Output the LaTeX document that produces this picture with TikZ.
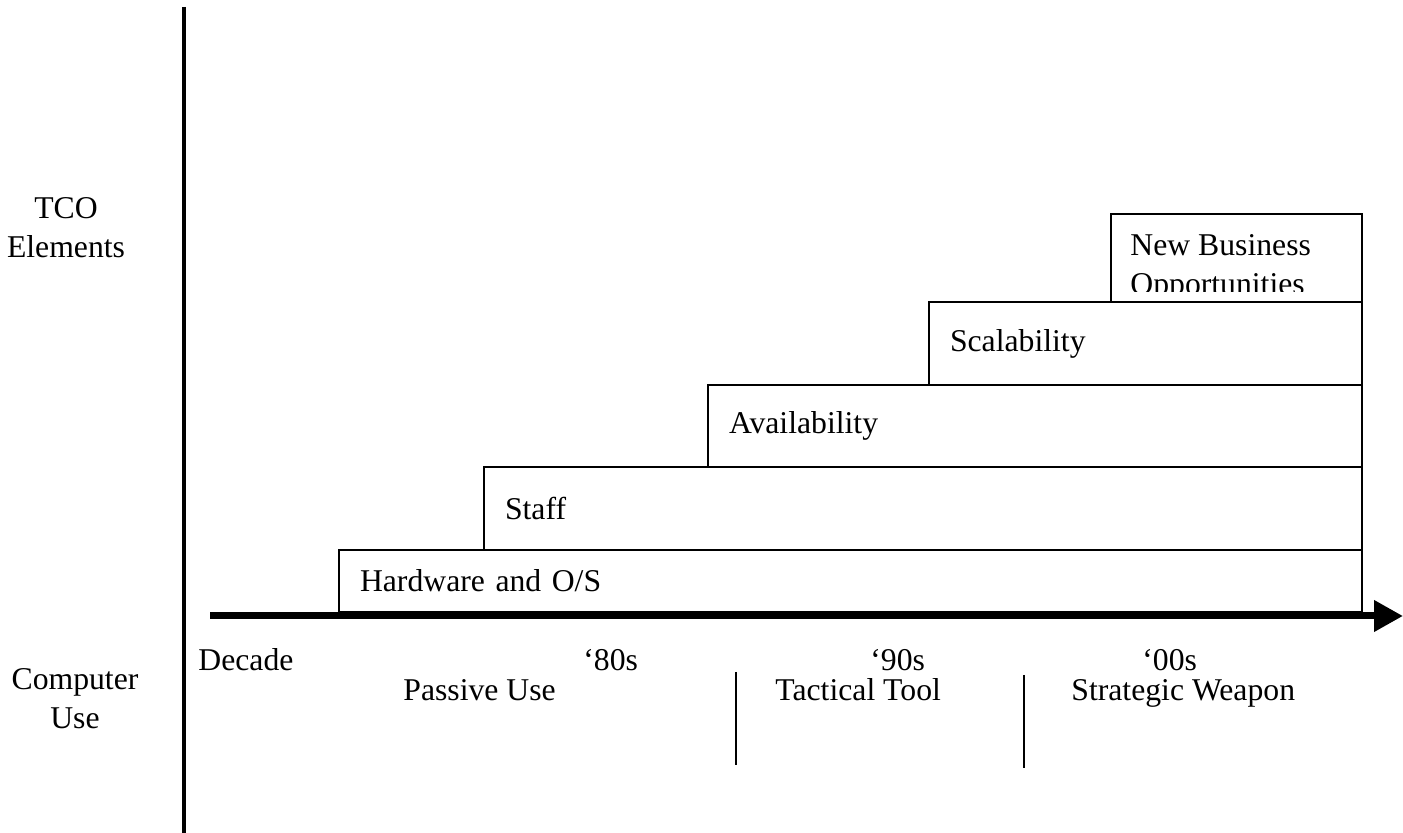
\documentclass[tikz,border=0pt]{standalone}
\usepackage{fontspec}
\setmainfont{Liberation Serif}
\usetikzlibrary{arrows.meta}

\begin{document}
\begin{tikzpicture}[x=0.5pt, y=-0.5pt,
    font=\fontsize{15.85pt}{19.5pt}\selectfont,
    box/.style={rectangle, draw, line width=1pt, anchor=south west, inner xsep=10.5pt, align=left}
    ]
    \useasboundingbox (0,0) rectangle (1403,833);

    % axes
    \draw[line width=2pt] (184,7) -- (184,833);
    \draw[line width=3.5pt, -{Triangle[length=14.5pt, width=15pt]}] (210,616) -- (1403,616);

    % stacked elements, bottom to top
    \node[box, minimum width=511.5pt, minimum height=31pt, text width=490.5pt] (hw) at (338,613) {Hardware and O/S};
    \node[box, minimum width=439pt, minimum height=41.5pt, text width=418pt] (staff) at (483,551) {Staff};
    \node[box, minimum width=327pt, minimum height=41pt, text width=306pt] (avail) at (707,468) {Availability};
    \node[box, minimum width=216.5pt, minimum height=41.5pt, text width=195.5pt] (scal) at (928,386) {Scalability};
    \node[box, minimum width=125.5pt, minimum height=44pt] (nbo) at (1110,303) {};
    \begin{scope}
      \clip (nbo.north west) rectangle (1361,292);
      \node[anchor=north west, align=left, inner sep=0pt] (nbotext) at (1130,234) {New Business\\Opportunities};
    \end{scope}

    % side labels
    \node[anchor=north, align=center, inner sep=0pt] (tco) at (66,197) {TCO\\Elements};
    \node[anchor=north, align=center, inner sep=0pt] (use) at (75,668) {Computer\\Use};

    % decades
    \node[anchor=base west, inner sep=0pt] (decade) at (198,670) {Decade};
    \node[anchor=base west, inner sep=0pt] (d80) at (583,670) {‘80s};
    \node[anchor=base west, inner sep=0pt] (d90) at (870,670) {‘90s};
    \node[anchor=base west, inner sep=0pt] (d00) at (1142,670) {‘00s};

    % kinds of use
    \node[anchor=base west, inner sep=0pt] (passive) at (403,700) {Passive Use};
    \node[anchor=base west, inner sep=0pt] (tactical) at (775,700) {Tactical Tool};
    \node[anchor=base west, inner sep=0pt] (strategic) at (1071,700) {Strategic Weapon};
    \coordinate (s1top) at (736,672);
    \coordinate (s1bot) at (736,765);
    \coordinate (s2top) at (1024,675);
    \coordinate (s2bot) at (1024,768);
    \draw[line width=1pt] (s1top) -- (s1bot);
    \draw[line width=1pt] (s2top) -- (s2bot);
\end{tikzpicture}
\end{document}
